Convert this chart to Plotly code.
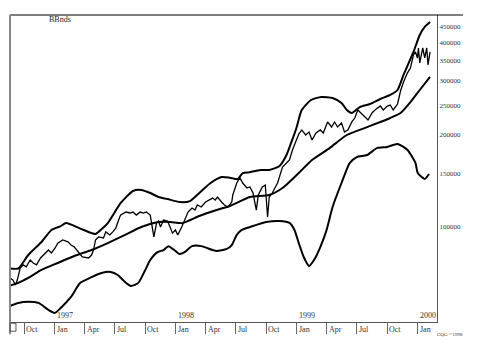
import plotly.graph_objects as go

# ---------------- data (values in thousands) ----------------
price_dates = [
    "1996-08-19", "1996-08-28", "1996-09-04", "1996-09-10", "1996-09-19", "1996-09-28",
    "1996-10-07", "1996-10-19", "1996-10-28", "1996-11-07", "1996-11-19", "1996-12-04",
    "1996-12-13", "1996-12-22", "1997-01-02", "1997-01-10", "1997-01-25", "1997-02-10",
    "1997-02-19", "1997-03-01", "1997-03-16", "1997-03-25", "1997-04-13", "1997-04-22",
    "1997-04-28", "1997-05-04", "1997-05-13", "1997-05-28", "1997-06-04", "1997-06-16",
    "1997-06-25", "1997-07-04", "1997-07-16", "1997-07-19", "1997-08-04", "1997-08-16",
    "1997-08-25", "1997-09-04", "1997-09-16", "1997-09-25", "1997-10-04", "1997-10-16",
    "1997-10-27", "1997-11-04", "1997-11-10", "1997-11-16", "1997-11-25", "1997-12-07",
    "1997-12-16", "1997-12-22", "1997-12-31", "1998-01-07", "1998-01-19", "1998-01-28",
    "1998-02-07", "1998-02-19", "1998-02-28", "1998-03-07", "1998-03-19", "1998-04-01",
    "1998-04-10", "1998-04-22", "1998-04-30", "1998-05-07", "1998-05-19", "1998-05-28",
    "1998-06-07", "1998-06-19", "1998-06-22", "1998-07-04", "1998-07-13", "1998-07-22",
    "1998-08-04", "1998-08-13", "1998-08-22", "1998-09-01", "1998-09-07", "1998-09-19",
    "1998-09-28", "1998-10-05", "1998-10-10", "1998-10-19", "1998-11-04", "1998-11-19",
    "1998-12-01", "1998-12-10", "1998-12-19", "1998-12-31", "1999-01-07", "1999-01-16",
    "1999-01-28", "1999-02-07", "1999-02-16", "1999-02-28", "1999-03-13", "1999-03-22",
    "1999-04-04", "1999-04-16", "1999-04-25", "1999-05-04", "1999-05-16", "1999-05-25",
    "1999-06-04", "1999-06-16", "1999-06-25", "1999-07-04", "1999-07-16", "1999-07-25",
    "1999-08-04", "1999-08-16", "1999-08-25", "1999-09-10", "1999-09-19", "1999-10-01",
    "1999-10-10", "1999-10-19", "1999-11-01", "1999-11-10", "1999-11-19", "1999-12-01",
    "1999-12-10", "1999-12-19", "1999-12-25", "1999-12-31", "2000-01-03", "2000-01-07",
    "2000-01-13", "2000-01-16", "2000-01-22", "2000-01-28", "2000-02-01", "2000-02-07",
]
price_k = [
    68.1, 67.1, 64.7, 67.1, 73.5, 75.2,
    74.1, 78.0, 76.3, 75.2, 79.2, 82.3,
    84.1, 82.3, 85.4, 88.6, 90.7, 89.4,
    87.3, 86.0, 82.3, 79.8, 79.2, 81.0,
    84.1, 90.7, 92.8, 92.1, 96.4, 94.2,
    96.4, 99.2, 107.8, 109.4, 111.9, 111.1,
    111.9, 109.4, 111.9, 111.1, 111.9, 109.4,
    92.8, 103.0, 104.6, 100.0, 105.4, 104.6,
    99.2, 95.5, 97.8, 94.2, 100.0, 105.4,
    111.9, 115.3, 113.6, 118.0, 116.2, 120.7,
    122.5, 124.3, 122.5, 125.3, 120.7, 118.0,
    116.2, 120.7, 127.2, 139.2, 144.9, 139.2,
    134.1, 135.1, 129.1, 113.6, 127.2, 135.1,
    137.1, 107.8, 125.3, 129.1, 139.2, 157.0,
    161.8, 165.5, 178.4, 192.4, 201.2, 207.4,
    199.7, 204.2, 192.4, 202.7, 207.4, 202.7,
    220.3, 212.1, 220.3, 212.1, 218.7, 204.2,
    207.4, 220.3, 226.9, 241.0, 233.9, 230.4,
    223.6, 235.6, 241.0, 248.3, 241.0, 248.3,
    250.2, 241.0, 252.1, 278.0, 297.5, 318.8,
    330.6, 364.5, 372.8, 356.5, 384.1, 343.3,
    369.8, 384.1, 356.5, 384.1, 338.1, 372.8,
]

upper_dates = [
    "1996-08-19", "1996-09-13", "1996-10-13", "1996-11-22", "1996-12-22", "1997-01-19",
    "1997-02-04", "1997-03-16", "1997-04-22", "1997-05-04", "1997-06-10", "1997-07-19",
    "1997-08-25", "1997-09-19", "1997-10-16", "1997-11-10", "1997-12-07", "1998-01-13",
    "1998-02-13", "1998-03-13", "1998-04-16", "1998-05-19", "1998-06-13", "1998-07-07",
    "1998-07-22", "1998-08-13", "1998-09-13", "1998-10-10", "1998-11-10", "1998-12-01",
    "1998-12-16", "1998-12-31", "1999-01-16", "1999-02-13", "1999-03-16", "1999-04-19",
    "1999-05-16", "1999-06-01", "1999-06-16", "1999-07-10", "1999-08-10", "1999-09-10",
    "1999-10-10", "1999-11-01", "1999-11-19", "1999-12-19", "2000-01-07", "2000-01-22",
    "2000-02-07",
]
upper_k = [
    73.2, 73.2, 81.0, 89.3, 97.8, 100.7,
    103.0, 99.2, 95.5, 94.9, 103.0, 119.8,
    131.1, 132.1, 129.1, 125.3, 123.4, 120.6,
    121.5, 129.1, 139.2, 145.6, 144.9, 143.5,
    150.0, 151.0, 153.5, 153.5, 158.2, 171.8,
    189.5, 210.5, 241.0, 259.8, 265.8, 263.8,
    254.0, 241.0, 235.6, 246.3, 252.1, 261.8,
    269.8, 280.1, 313.6, 372.8, 423.6, 450.0,
    467.0,
]

mid_dates = [
    "1996-08-19", "1996-09-13", "1996-10-13", "1996-11-22", "1997-01-10", "1997-03-01",
    "1997-04-22", "1997-06-10", "1997-08-01", "1997-09-19", "1997-11-10", "1997-12-16",
    "1998-01-22", "1998-03-13", "1998-05-04", "1998-06-13", "1998-08-13", "1998-10-10",
    "1998-11-19", "1999-01-07", "1999-02-16", "1999-04-10", "1999-06-01", "1999-08-01",
    "1999-10-10", "1999-11-10", "1999-12-10", "2000-01-07", "2000-02-07",
]
mid_k = [
    64.4, 65.7, 68.2, 72.4, 76.3, 80.4,
    84.1, 88.6, 94.2, 100.0, 103.9, 103.9,
    103.0, 108.6, 113.6, 117.1, 125.3, 127.2,
    134.1, 150.1, 165.5, 181.0, 199.7, 211.9,
    227.0, 235.6, 255.8, 280.1, 308.9,
]

lower_dates = [
    "1996-08-19", "1996-09-13", "1996-10-13", "1996-11-13", "1996-12-13", "1997-01-01",
    "1997-01-19", "1997-02-19", "1997-03-19", "1997-04-22", "1997-05-22", "1997-06-19",
    "1997-07-10", "1997-08-01", "1997-08-19", "1997-09-10", "1997-10-01", "1997-10-16",
    "1997-11-07", "1997-11-25", "1997-12-10", "1997-12-31", "1998-01-13", "1998-01-28",
    "1998-02-19", "1998-03-19", "1998-04-22", "1998-05-04", "1998-06-04", "1998-06-19",
    "1998-07-04", "1998-07-19", "1998-08-13", "1998-10-01", "1998-11-10", "1998-12-10",
    "1998-12-25", "1999-01-07", "1999-01-22", "1999-02-07", "1999-02-22", "1999-03-13",
    "1999-04-01", "1999-04-19", "1999-05-16", "1999-06-10", "1999-07-01", "1999-08-01",
    "1999-09-01", "1999-10-01", "1999-11-01", "1999-12-01", "1999-12-25", "2000-01-01",
    "2000-01-22", "2000-02-04",
]
lower_k = [
    55.2, 56.5, 57.0, 56.5, 53.6, 52.4,
    54.4, 59.1, 65.7, 68.6, 70.8, 71.3,
    69.7, 66.1, 64.2, 65.7, 72.4, 78.0,
    82.8, 84.1, 86.6, 83.5, 81.6, 82.8,
    86.6, 86.6, 84.1, 83.5, 84.8, 87.3,
    94.2, 97.8, 100.0, 103.8, 104.6, 103.1,
    97.8, 88.6, 79.8, 74.6, 78.0, 86.0,
    97.8, 116.2, 139.2, 161.9, 169.2, 171.8,
    181.2, 182.6, 186.7, 178.4, 161.8, 150.1,
    143.5, 148.9,
]

ytick_vals = [100000, 150000, 200000, 250000, 300000, 350000, 400000, 450000]
ytick_text = [str(v) for v in ytick_vals]

month_ticks = ["1996-10-01", "1997-01-01", "1997-04-01", "1997-07-01", "1997-10-01",
               "1998-01-01", "1998-04-01", "1998-07-01", "1998-10-01",
               "1999-01-01", "1999-04-01", "1999-07-01", "1999-10-01", "2000-01-01"]
month_labels = ["Oct", "Jan", "Apr", "Jul", "Oct", "Jan", "Apr", "Jul", "Oct",
                "Jan", "Apr", "Jul", "Oct", "Jan"]
year_ticks = ["1997-01-01", "1998-01-01", "1999-01-01", "2000-01-01"]
year_labels = ["1997", "1998", "1999", "2000"]

SERIF = "Liberation Serif, Times New Roman, serif"

fig = go.Figure()
for d, v, w in [(upper_dates, upper_k, 2), (mid_dates, mid_k, 2),
                (lower_dates, lower_k, 2), (price_dates, price_k, 1.3)]:
    fig.add_trace(go.Scatter(
        x=d, y=[k * 1000 for k in v], mode="lines",
        line=dict(color="black", width=w, shape="spline" if w == 2 else "linear",
                  smoothing=0.6),
        showlegend=False, hoverinfo="skip"))

annotations = []
for t, lab in zip(month_ticks, month_labels):
    annotations.append(dict(x=t, y=0, xref="x", yref="paper", text=lab,
                            showarrow=False, xanchor="left", yanchor="top",
                            xshift=0, yshift=-1,
                            font=dict(family=SERIF, size=8, color="#333")))
for t, lab in zip(year_ticks, year_labels):
    annotations.append(dict(x=t, y=0, xref="x", yref="paper", text=lab,
                            showarrow=False, xanchor="left", yanchor="bottom",
                            xshift=0, yshift=0,
                            font=dict(family=SERIF, size=8, color="#333")))
annotations.append(dict(x=0.087, y=0.984, xref="paper", yref="paper", text="BBnds",
                        showarrow=False, xanchor="left", yanchor="middle",
                        font=dict(family=SERIF, size=8, color="#222")))
annotations.append(dict(x=0.995, y=-0.042, xref="paper", yref="paper", text="CQG ©1998",
                        showarrow=False, xanchor="left", yanchor="middle",
                        font=dict(family=SERIF, size=5, color="#333")))

shapes = [
    dict(type="line", xref="paper", yref="paper", x0=0, x1=1.061, y0=1, y1=1,
         line=dict(color="black", width=1)),
    dict(type="line", xref="paper", yref="paper", x0=0, x1=0, y0=-0.04, y1=1,
         line=dict(color="#888", width=2)),
    dict(type="rect", xref="paper", yref="paper", x0=0, x1=0.014, y0=-0.03, y1=-0.004,
         line=dict(color="#555", width=1)),
]

fig.update_layout(
    width=484, height=354,
    margin=dict(l=10, r=47, t=15, b=32),
    paper_bgcolor="white", plot_bgcolor="white",
    showlegend=False,
    annotations=annotations, shapes=shapes,
    xaxis=dict(type="date", range=["1996-08-19", "2000-02-28"],
               tickvals=month_ticks, showticklabels=False,
               ticks="outside", ticklen=11, tickcolor="#666", tickwidth=1,
               showgrid=False, zeroline=False,
               showline=True, linecolor="#555", linewidth=1),
    yaxis=dict(type="log", side="right", range=[4.6898, 5.6922],
               tickvals=ytick_vals, ticktext=ytick_text, ticks="",
               tickfont=dict(family=SERIF, size=7, color="#333"),
               showgrid=False, zeroline=False,
               showline=True, linecolor="#555", linewidth=1),
)

fig.write_html("out.html")
